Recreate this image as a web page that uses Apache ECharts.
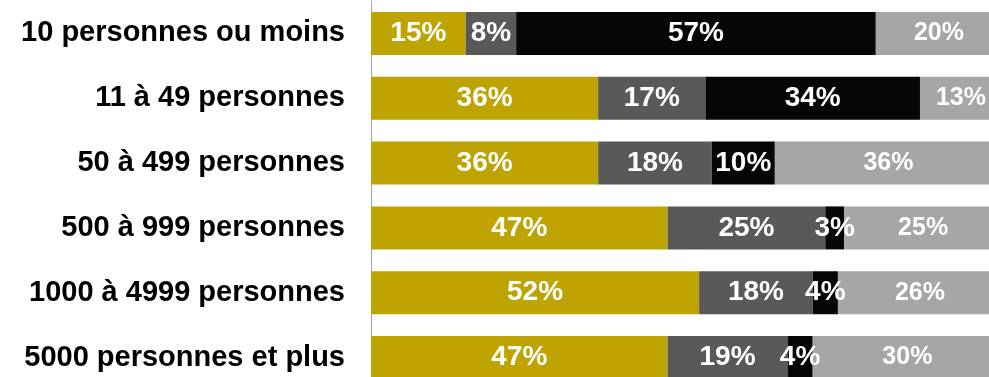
<!DOCTYPE html>
<html>
<head>
<meta charset="utf-8">
<script src="https://cdn.jsdelivr.net/npm/echarts@6/dist/echarts.min.js"></script>
<style>
html,body{margin:0;padding:0;background:#fff;}
#chart{width:989px;height:377px;}
</style>
</head>
<body>
<div id="chart"></div>
<script>
const categories = ["10 personnes ou moins", "11 à 49 personnes", "50 à 499 personnes", "500 à 999 personnes", "1000 à 4999 personnes", "5000 personnes et plus"];
const seriesA = [15, 36, 36, 47, 52, 47];
const seriesB = [8, 17, 18, 25, 18, 19];
const seriesC = [57, 34, 10, 3, 4, 4];
const seriesD = [20, 13, 36, 25, 26, 30];

const colors = ["#BFA300", "#595959", "#060606", "#A6A6A6"];
const FONT = "'Liberation Sans', Arial, sans-serif";

function makeSeries(name, data, color, fs) {
  return {
    name: name,
    type: 'bar',
    stack: 'total',
    data: data,
    barWidth: 43,
    itemStyle: { color: color },
    label: {
      show: true,
      position: 'inside',
      color: '#ffffff',
      fontFamily: FONT,
      fontWeight: 'bold',
      fontSize: fs,
      formatter: p => p.value + '%'
    },
    emphasis: { disabled: true }
  };
}

const chart = echarts.init(document.getElementById('chart'), null, { renderer: 'canvas' });
chart.setOption({
  animation: false,
  backgroundColor: '#ffffff',
  grid: { left: 371, right: -13, top: 1, bottom: -13, containLabel: false, outerBoundsMode: 'none' },
  xAxis: { type: 'value', min: 0, max: 100, show: false },
  yAxis: {
    type: 'category',
    data: categories,
    inverse: true,
    axisLine: { show: true, lineStyle: { color: '#A6A6A6', width: 1 } },
    axisTick: { show: false },
    axisLabel: { margin: 26, color: '#000000', fontFamily: FONT, fontWeight: 'bold', fontSize: 29 }
  },
  series: [
    makeSeries('A', seriesA, colors[0], 28),
    makeSeries('B', seriesB, colors[1], 28),
    makeSeries('C', seriesC, colors[2], 28),
    makeSeries('D', seriesD, colors[3], 25)
  ]
});
</script>
</body>
</html>
